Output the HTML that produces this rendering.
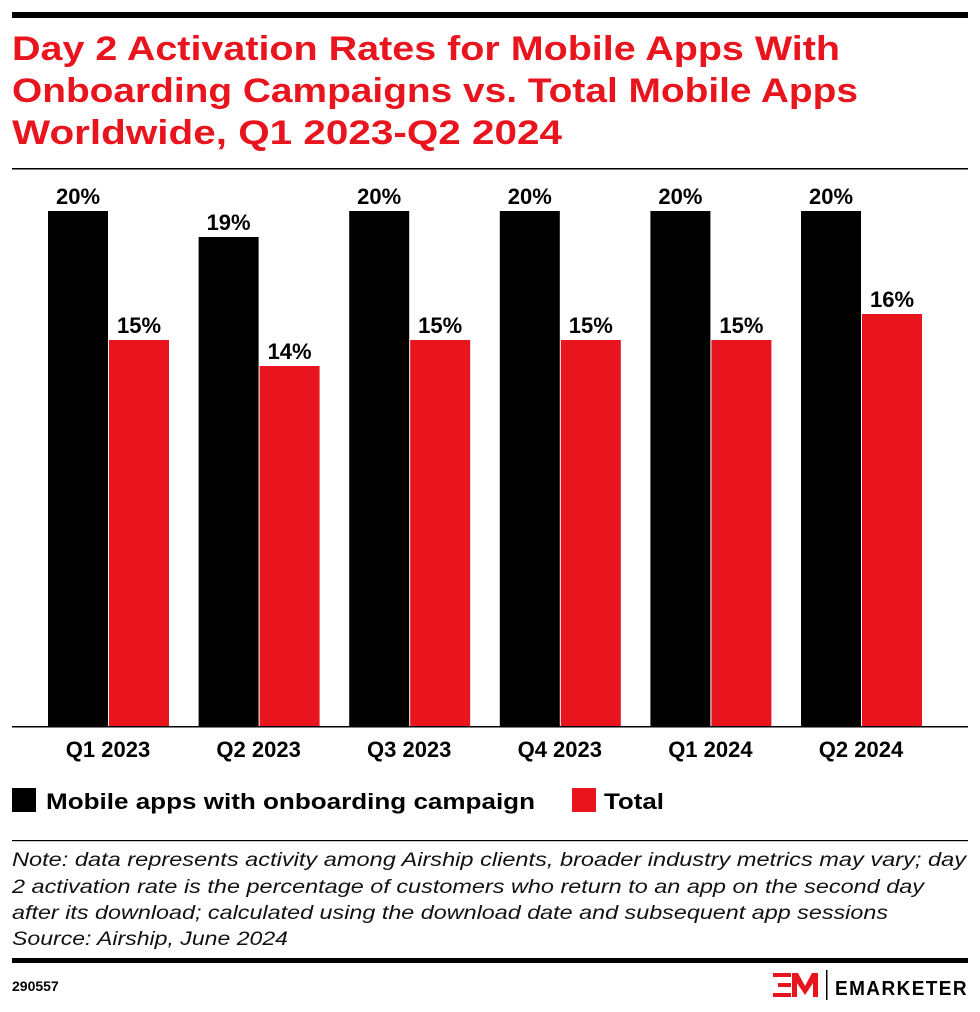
<!DOCTYPE html>
<html><head><meta charset="utf-8"><style>body{margin:0;background:#fff}svg{display:block}</style></head><body>
<svg width="980" height="1012" xmlns="http://www.w3.org/2000/svg" font-family="Liberation Sans, sans-serif">
<rect x="12" y="12" width="956" height="6" fill="#000"/>
<g fill="#e8141e" font-weight="bold" font-size="34">
<text x="12" y="60" textLength="828" lengthAdjust="spacingAndGlyphs">Day 2 Activation Rates for Mobile Apps With</text>
<text x="12" y="102" textLength="846" lengthAdjust="spacingAndGlyphs">Onboarding Campaigns vs. Total Mobile Apps</text>
<text x="12" y="144" textLength="550" lengthAdjust="spacingAndGlyphs">Worldwide, Q1 2023-Q2 2024</text>
</g>
<rect x="12" y="168" width="956" height="1.5" fill="#000"/>
<g font-weight="bold" font-size="22" text-anchor="middle">
<g transform="translate(0,0)"><rect x="48" y="211" width="60" height="516"/><rect x="109" y="340" width="60" height="387" fill="#e8141e"/><text x="78" y="204">20%</text><text x="139" y="333">15%</text><text x="108" y="757">Q1 2023</text></g>
<g transform="translate(150.6,0)"><rect x="48" y="237" width="60" height="490"/><rect x="109" y="366" width="60" height="361" fill="#e8141e"/><text x="78" y="230">19%</text><text x="139" y="359">14%</text><text x="108" y="757">Q2 2023</text></g>
<g transform="translate(301.2,0)"><rect x="48" y="211" width="60" height="516"/><rect x="109" y="340" width="60" height="387" fill="#e8141e"/><text x="78" y="204">20%</text><text x="139" y="333">15%</text><text x="108" y="757">Q3 2023</text></g>
<g transform="translate(451.8,0)"><rect x="48" y="211" width="60" height="516"/><rect x="109" y="340" width="60" height="387" fill="#e8141e"/><text x="78" y="204">20%</text><text x="139" y="333">15%</text><text x="108" y="757">Q4 2023</text></g>
<g transform="translate(602.4,0)"><rect x="48" y="211" width="60" height="516"/><rect x="109" y="340" width="60" height="387" fill="#e8141e"/><text x="78" y="204">20%</text><text x="139" y="333">15%</text><text x="108" y="757">Q1 2024</text></g>
<g transform="translate(753,0)"><rect x="48" y="211" width="60" height="516"/><rect x="109" y="314" width="60" height="413" fill="#e8141e"/><text x="78" y="204">20%</text><text x="139" y="307">16%</text><text x="108" y="757">Q2 2024</text></g>
</g>
<rect x="12" y="726" width="956" height="1.5" fill="#000"/>
<rect x="12" y="788" width="24" height="24"/>
<text x="46" y="809" font-size="22" font-weight="bold" textLength="489" lengthAdjust="spacingAndGlyphs">Mobile apps with onboarding campaign</text>
<rect x="572" y="788" width="24" height="24" fill="#e8141e"/>
<text x="604" y="809" font-size="22" font-weight="bold" textLength="60" lengthAdjust="spacingAndGlyphs">Total</text>
<rect x="12" y="840" width="956" height="1.2" fill="#000"/>
<g font-size="19" font-style="italic" fill="#111">
<text x="12" y="866" textLength="954" lengthAdjust="spacingAndGlyphs">Note: data represents activity among Airship clients, broader industry metrics may vary; day</text>
<text x="12" y="893" textLength="912" lengthAdjust="spacingAndGlyphs">2 activation rate is the percentage of customers who return to an app on the second day</text>
<text x="12" y="919" textLength="876" lengthAdjust="spacingAndGlyphs">after its download; calculated using the download date and subsequent app sessions</text>
<text x="12" y="945" textLength="276" lengthAdjust="spacingAndGlyphs">Source: Airship, June 2024</text>
</g>
<rect x="12" y="958" width="956" height="5" fill="#000"/>
<text x="12" y="991" font-size="14" font-weight="bold">290557</text>
<g fill="#e8141e">
<rect x="773" y="973" width="18" height="4"/><rect x="778" y="983" width="13" height="4"/><rect x="773" y="993" width="18" height="4"/>
<polygon points="792,973 798,973 805,986 812,973 818,973 818,997 813,997 813,983 805,995 797,983 797,997 792,997"/>
</g>
<rect x="826" y="970" width="1.5" height="30" fill="#000"/>
<text x="835" y="995" font-size="20" font-weight="bold" letter-spacing="1.5" textLength="133" lengthAdjust="spacingAndGlyphs">EMARKETER</text>
</svg>
</body></html>
